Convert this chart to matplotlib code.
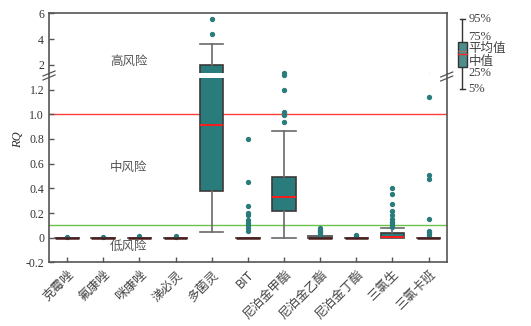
import matplotlib
matplotlib.use('Agg')
import matplotlib.pyplot as plt
import matplotlib.transforms as mtransforms
from matplotlib.patches import Rectangle
from matplotlib.lines import Line2D

plt.rcParams['font.family'] = ['Liberation Serif', 'Noto Sans CJK SC', 'DejaVu Sans']
plt.rcParams['font.size'] = 8.5

# Data
categories = ['克霉唑', '氟康唑', '咪康唑', '涕必灵', '多菌灵', 'BIT',
              '尼泊金甲酯', '尼泊金乙酯', '尼泊金丁酯', '三氯生', '三氯卡班']
q1 = [0, 0, 0, 0, 0.375, 0, 0.215, 0, 0, 0, 0]
med = [0, 0, 0, 0, 0.91, 0, 0.333, 0, 0, 0.002, 0]
q3 = [0, 0, 0, 0, 1.95, 0, 0.494, 0.01, 0, 0.035, 0]
whislo = [0, 0, 0, 0, 0.05, 0, 0, 0, 0, 0, 0]
whishi = [0, 0, 0, 0, 3.63, 0, 0.863, 0.01, 0, 0.075, 0]
fliers = [
    [0.003],
    [0.003],
    [0.015],
    [0.012, 0.005],
    [4.37, 5.56],
    [0.80, 0.45, 0.26, 0.20, 0.18, 0.14, 0.12, 0.10, 0.075, 0.055],
    [0.94, 0.99, 1.01, 1.02, 1.20, 1.32],
    [0.075, 0.065, 0.055, 0.045, 0.035, 0.025, 0.02],
    [0.02, 0.01],
    [0.40, 0.35, 0.27, 0.22, 0.185, 0.15, 0.13, 0.12, 0.105, 0.09],
    [1.14, 0.51, 0.475, 0.155, 0.055, 0.043, 0.03, 0.02],
]
high_risk = 1.0
low_risk = 0.1

TEAL = '#2a7b7b'
EDGE = '#3a3a3a'
WHISK = '#6a6a6a'
CJK = ['Noto Sans CJK SC', 'DejaVu Sans']

stats = []
for i in range(len(categories)):
    stats.append(dict(q1=q1[i], med=med[i], q3=q3[i], whislo=whislo[i],
                      whishi=whishi[i], fliers=fliers[i], label=categories[i]))

fig = plt.figure(figsize=(5.31, 3.26), dpi=100)
left, width = 0.0923, 0.7489
ax_up = fig.add_axes([left, 0.7715, width, 0.1877])
ax_lo = fig.add_axes([left, 0.1951, width, 0.5764])

positions = list(range(len(categories)))
for ax in (ax_up, ax_lo):
    bp = ax.bxp(stats, positions=positions, widths=0.65, patch_artist=True,
                showfliers=True,
                boxprops=dict(facecolor=TEAL, edgecolor=EDGE, linewidth=1.2),
                medianprops=dict(color='#ff1a1a', linewidth=1.4),
                whiskerprops=dict(color=WHISK, linewidth=1.2),
                capprops=dict(color=WHISK, linewidth=1.2),
                capwidths=0.65,
                flierprops=dict(marker='o', markersize=2.8, markerfacecolor=TEAL,
                                markeredgecolor=TEAL, linestyle='none'))
    for i, m in enumerate(bp['medians']):
        m.set_zorder(4)
        # collapsed boxes look dark brown in the original
        if q3[i] - q1[i] < 0.02:
            m.set_color('#4a1e1e')
            m.set_linewidth(1.8)
    ax.set_xlim(-0.5, 10.5)
    for s in ax.spines.values():
        s.set_color('#555555')
        s.set_linewidth(1.2)
    ax.tick_params(direction='in', length=3.5, width=1.0, color='#555555',
                   labelcolor='#333333', labelsize=8.5)

ax_up.set_ylim(1.24, 6)
ax_up.set_yticks([2, 4, 6])
ax_up.spines['bottom'].set_visible(False)
ax_up.tick_params(axis='x', bottom=False, labelbottom=False)

ax_lo.set_ylim(-0.2, 1.322)
ax_lo.set_yticks([-0.2, 0, 0.2, 0.4, 0.6, 0.8, 1.0, 1.2])
ax_lo.set_yticklabels(['-0.2', '0', '0.2', '0.4', '0.6', '0.8', '1.0', '1.2'])
ax_lo.spines['top'].set_visible(False)
ax_lo.set_xticks(positions)
ax_lo.set_xticklabels(categories, rotation=45, ha='right', va='top',
                      rotation_mode='anchor', family=CJK, fontsize=9,
                      color='#444444')
ax_lo.tick_params(axis='x', pad=4)

ax_lo.axhline(high_risk, color='#ff3b3b', linewidth=1.0, zorder=1)
ax_lo.axhline(low_risk, color='#6cc24a', linewidth=1.0, zorder=1)

ax_up.text(1.7, 2.3, '高风险', family=CJK, fontsize=9, color='#555555',
           ha='center', va='center')
ax_lo.text(1.7, 0.57, '中风险', family=CJK, fontsize=9, color='#555555',
           ha='center', va='center')
ax_lo.text(1.7, -0.07, '低风险', family=CJK, fontsize=9, color='#555555',
           ha='center', va='center')

fig.text(18 / 531, 1 - 140 / 326, 'RQ', rotation=90, style='italic',
         ha='center', va='center', fontsize=9, color='#333333')

# white gap across the broken box
trans = mtransforms.blended_transform_factory(ax_lo.transData, ax_lo.transAxes)
ax_lo.add_patch(Rectangle((4 - 0.36, 1 - 3.5 / 187.9), 0.72, 5 / 187.9,
                          transform=trans, facecolor='white', edgecolor='none',
                          zorder=10, clip_on=False))

# overlay in pixel coordinates for break marks and legend glyph
ov = fig.add_axes([0, 0, 1, 1], facecolor='none')
ov.set_xlim(0, 531)
ov.set_ylim(326, 0)
ov.axis('off')

for xc, yc in ((49, 75.5), (446.7, 76.5)):
    for dy in (-2, 2):
        ov.add_line(Line2D([xc - 6, xc + 6], [yc + dy + 2.5, yc + dy - 2.5],
                           color='#555555', linewidth=0.9))

# legend glyph
lx = 462.3
ov.add_line(Line2D([lx, lx], [19.3, 89.3], color='#333333', linewidth=1.0))
ov.add_line(Line2D([lx - 2, lx + 3], [19.3, 19.3], color='#333333', linewidth=1.0))
ov.add_line(Line2D([lx - 2, lx + 3], [89.3, 89.3], color='#333333', linewidth=1.0))
ov.add_patch(Rectangle((457.7, 42.3), 9, 25, facecolor='#4f8c8c',
                       edgecolor='#333333', linewidth=1.0, zorder=3))
ov.add_line(Line2D([457.7, 466.7], [54.3, 54.3], color='#ff2a2a', linewidth=1.0, zorder=4))
ov.add_line(Line2D([457.7, 466.7], [50.7, 50.7], color='#ff6060', linewidth=0.9,
                   linestyle=':', zorder=4))
leg_items = [('95%', 19.3), ('75%', 36.5), ('平均值', 48.5), ('中值', 61.5),
             ('25%', 73.5), ('5%', 89.3)]
for txt, yy in leg_items:
    pct = '%' in txt
    ov.text(468.5, yy, txt, ha='left', va='center', fontsize=9,
            color='#444444',
            family=['Liberation Serif'] if pct else CJK)

fig.savefig('out.png', dpi=100)
